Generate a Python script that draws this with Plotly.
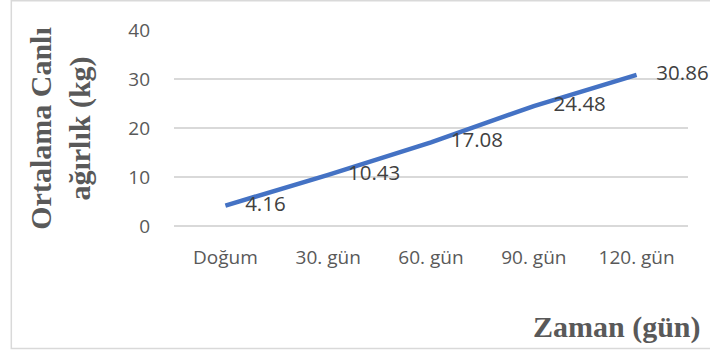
import plotly.graph_objects as go

categories = ["Doğum", "30. gün", "60. gün", "90. gün", "120. gün"]
weights = [4.16, 10.43, 17.08, 24.48, 30.86]
labels = ["4.16", "10.43", "17.08", "24.48", "30.86"]
y_ticks = [0, 10, 20, 30, 40]

W, H = 710, 356
L, R, T, B = 173.5, 21.5, 30, 130
pw = W - L - R
ph = H - T - B

def px(xp):
    return (xp - L) / pw

def py(yp):
    return (H - B - yp) / ph

gray = "#595959"
grid = "#d9d9d9"

fig = go.Figure()
fig.add_trace(go.Scatter(
    x=categories, y=weights, text=labels,
    mode="lines+markers+text",
    line=dict(color="#4472C4", width=4.5),
    marker=dict(size=30, color="rgba(0,0,0,0)"),
    textposition="middle right",
    textfont=dict(family="Open Sans, sans-serif", size=20.5, color="#404040"),
    cliponaxis=False,
    hoverinfo="skip",
))

fig.update_layout(
    width=W, height=H,
    margin=dict(l=L, r=R, t=T, b=B, pad=0),
    paper_bgcolor="white", plot_bgcolor="white",
    showlegend=False,
    xaxis=dict(
        type="category", range=[-0.5, 4.5], showgrid=False, showline=False, zeroline=False,
        ticks="", tickfont=dict(family="Open Sans, sans-serif", size=19, color=gray),
        ticklabelstandoff=18,
    ),
    yaxis=dict(
        range=[0, 40], tickvals=y_ticks, showgrid=True, gridcolor=grid, gridwidth=1.5,
        zeroline=True, zerolinecolor=grid, zerolinewidth=1.5, showline=False,
        ticks="", tickfont=dict(family="Open Sans, sans-serif", size=19, color=gray),
        ticklabelstandoff=23,
    ),
    shapes=[dict(
        type="rect", xref="paper", yref="paper",
        x0=px(10.5), x1=px(720), y0=py(348.5), y1=py(0.8),
        line=dict(color=grid, width=1.5), fillcolor="rgba(0,0,0,0)", layer="below",
    )],
    annotations=[
        dict(
            text="<b>Ortalama Canlı</b><br><b>ağırlık (kg)</b>", textangle=-90,
            xref="paper", yref="paper", x=px(59), y=py(128),
            xanchor="center", yanchor="middle", showarrow=False,
            font=dict(family="Liberation Serif, Times New Roman, serif", size=30, color=gray),
        ),
        dict(
            text="<b>Zaman (gün)</b>",
            xref="paper", yref="paper", x=px(704), y=py(327),
            xanchor="right", yanchor="middle", showarrow=False,
            font=dict(family="Liberation Serif, Times New Roman, serif", size=30, color=gray),
        ),
    ],
)

fig.write_html("out.html")
